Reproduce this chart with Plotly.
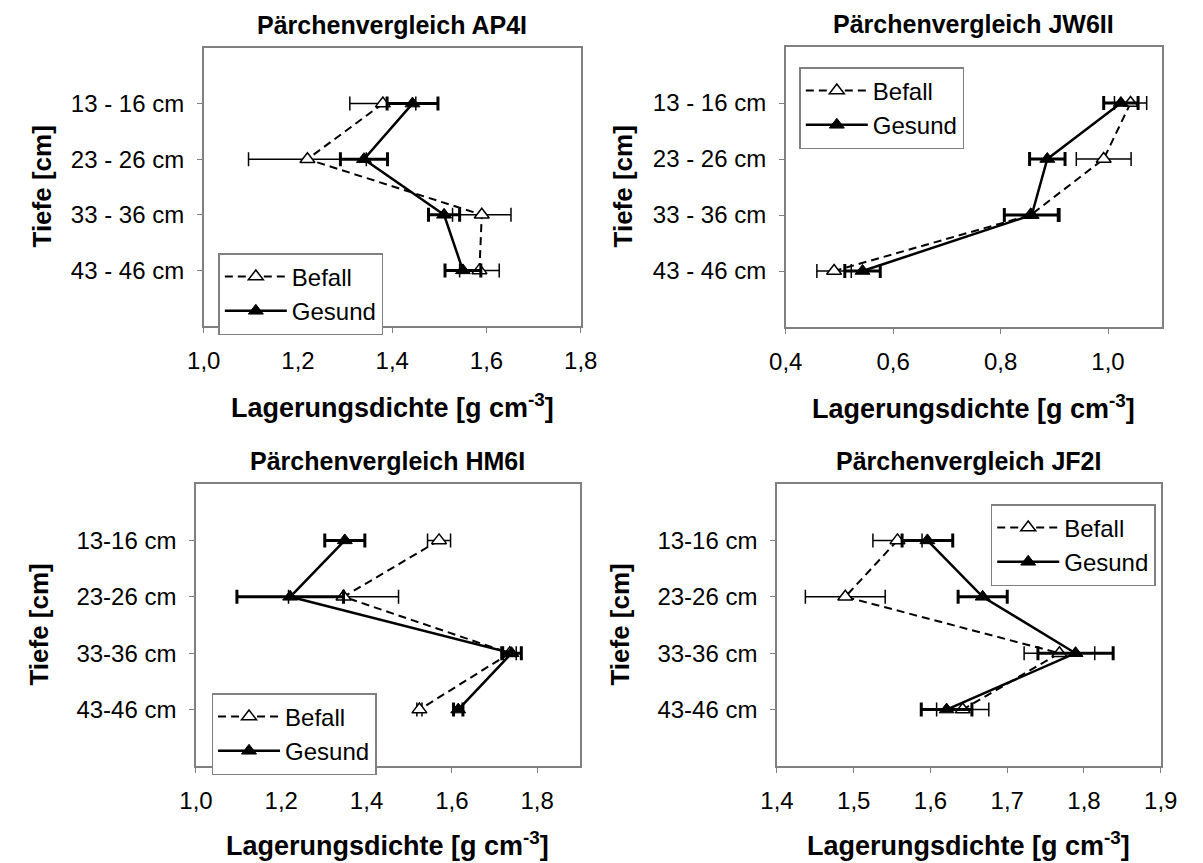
import plotly.graph_objects as go

# ---------------- data ----------------
depth_top = ["13 - 16 cm", "23 - 26 cm", "33 - 36 cm", "43 - 46 cm"]
depth_bottom = ["13-16 cm", "23-26 cm", "33-36 cm", "43-46 cm"]

titles = ["Pärchenvergleich AP4I", "Pärchenvergleich JW6II",
          "Pärchenvergleich HM6I", "Pärchenvergleich JF2I"]

befall_ap = [1.38, 1.22, 1.59, 1.585]
befall_ap_err = [0.07, 0.125, 0.062, 0.042]
gesund_ap = [1.443, 1.34, 1.51, 1.55]
gesund_ap_err = [0.054, 0.05, 0.033, 0.038]

befall_jw = [1.042, 0.992, 0.856, 0.49]
befall_jw_err = [0.03, 0.051, 0.05, 0.032]
gesund_jw = [1.024, 0.887, 0.858, 0.543]
gesund_jw_err = [0.032, 0.033, 0.051, 0.033]

befall_hm = [1.57, 1.346, 1.736, 1.524]
befall_hm_err = [0.027, 0.129, 0.015, 0.006]
gesund_hm = [1.349, 1.221, 1.74, 1.615]
gesund_hm_err = [0.047, 0.125, 0.023, 0.011]

befall_jf = [1.557, 1.489, 1.768, 1.642]
befall_jf_err = [0.032, 0.052, 0.046, 0.034]
gesund_jf = [1.596, 1.668, 1.789, 1.621]
gesund_jf_err = [0.033, 0.032, 0.049, 0.033]

x_ranges = [[1.0, 1.8], [0.4, 1.1], [1.0, 1.9], [1.4, 1.9]]
x_ticks = [[1.0, 1.2, 1.4, 1.6, 1.8], [0.4, 0.6, 0.8, 1.0],
           [1.0, 1.2, 1.4, 1.6, 1.8], [1.4, 1.5, 1.6, 1.7, 1.8, 1.9]]

# ---------------- layout helpers ----------------
OFF = 8                       # default body margin of the html page
W, H = 1203 - OFF, 863 - OFF  # figure size so that the page fits the window
FONT = "Arial, Liberation Sans, sans-serif"


def px_x(p):
    return (p - OFF) / W


def px_y(p):
    return 1 - (p - OFF) / H


# plot boxes in window pixels: left, right, top, bottom
boxes = [(192, 580, 48, 326), (791, 1178, 47, 327),
         (184, 579, 484, 766), (782, 1177, 484, 766)]
legend_pos = [(207, 253), (805, 67), (200, 693), (1002, 504)]
ytitle_x = [25, 623, 22, 620]
xtitle_dy = [80, 80, 78, 78]

panels = [
    (befall_ap, befall_ap_err, gesund_ap, gesund_ap_err, depth_top),
    (befall_jw, befall_jw_err, gesund_jw, gesund_jw_err, depth_top),
    (befall_hm, befall_hm_err, gesund_hm, gesund_hm_err, depth_bottom),
    (befall_jf, befall_jf_err, gesund_jf, gesund_jf_err, depth_bottom),
]

fig = go.Figure()
layout = dict(width=W, height=H, margin=dict(l=0, r=0, t=0, b=0),
              paper_bgcolor="white", plot_bgcolor="white",
              font=dict(family=FONT, size=24, color="black"),
              showlegend=True)
annotations = []

for i, (bv, be, gv, ge, cats) in enumerate(panels):
    n = i + 1
    xa = "x" if n == 1 else f"x{n}"
    ya = "y" if n == 1 else f"y{n}"
    lg = "legend" if n == 1 else f"legend{n}"
    fig.add_trace(go.Scatter(
        x=bv, y=cats, xaxis=xa, yaxis=ya, name="Befall", legend=lg,
        mode="lines+markers",
        line=dict(color="black", width=2, dash="8px,5px"),
        marker=dict(symbol="triangle-up", size=13, color="white",
                    line=dict(color="black", width=1.5)),
        error_x=dict(type="data", array=be, symmetric=True, color="black",
                     thickness=1.5, width=7),
    ))
    fig.add_trace(go.Scatter(
        x=gv, y=cats, xaxis=xa, yaxis=ya, name="Gesund", legend=lg,
        mode="lines+markers",
        line=dict(color="black", width=2.5),
        marker=dict(symbol="triangle-up", size=13, color="black",
                    line=dict(color="black", width=1)),
        error_x=dict(type="data", array=ge, symmetric=True, color="black",
                     thickness=3, width=7),
    ))
    l, r, t, b = boxes[i]
    xkey = "xaxis" if n == 1 else f"xaxis{n}"
    ykey = "yaxis" if n == 1 else f"yaxis{n}"
    layout[xkey] = dict(
        domain=[px_x(l), px_x(r)], anchor=ya, range=x_ranges[i],
        tickvals=x_ticks[i],
        ticktext=[f"{v:.1f}".replace(".", ",") for v in x_ticks[i]],
        showline=True, linecolor="#808080", linewidth=1.5, mirror=True,
        ticks="outside", ticklen=5, tickcolor="#808080",
        showgrid=False, zeroline=False, ticklabelstandoff=7,
        tickfont=dict(size=24, family=FONT),
    )
    layout[ykey] = dict(
        domain=[px_y(b), px_y(t)], anchor=xa,
        type="category", categoryorder="array", categoryarray=cats,
        range=[4, -1],
        showline=True, linecolor="#808080", linewidth=1.5, mirror=True,
        ticks="outside", ticklen=5, tickcolor="#808080",
        showgrid=False, zeroline=False, ticklabelstandoff=8,
        tickfont=dict(size=24, family=FONT),
    )
    lx, ly = legend_pos[i]
    layout[lg] = dict(
        x=px_x(lx), y=px_y(ly), xanchor="left", yanchor="top",
        xref="paper", yref="paper", itemwidth=62,
        bgcolor="white", bordercolor="#808080", borderwidth=1.5,
        font=dict(size=24, family=FONT),
    )
    # chart title
    annotations.append(dict(
        text=f"<b>{titles[i]}</b>", x=px_x((l + r) / 2), y=px_y(t - 23),
        xref="paper", yref="paper", showarrow=False,
        xanchor="center", yanchor="middle", font=dict(size=25, family=FONT)))
    # x axis title
    annotations.append(dict(
        text="<b>Lagerungsdichte [g cm<sup>-3</sup>]</b>",
        x=px_x((l + r) / 2), y=px_y(b + xtitle_dy[i]),
        xref="paper", yref="paper", showarrow=False,
        xanchor="center", yanchor="middle", font=dict(size=27, family=FONT)))
    # y axis title
    annotations.append(dict(
        text="<b>Tiefe [cm]</b>", x=px_x(ytitle_x[i]), y=px_y((t + b) / 2),
        xref="paper", yref="paper", showarrow=False, textangle=-90,
        xanchor="center", yanchor="middle", font=dict(size=26, family=FONT)))

layout["annotations"] = annotations
fig.update_layout(**layout)
fig.write_html("out.html")
